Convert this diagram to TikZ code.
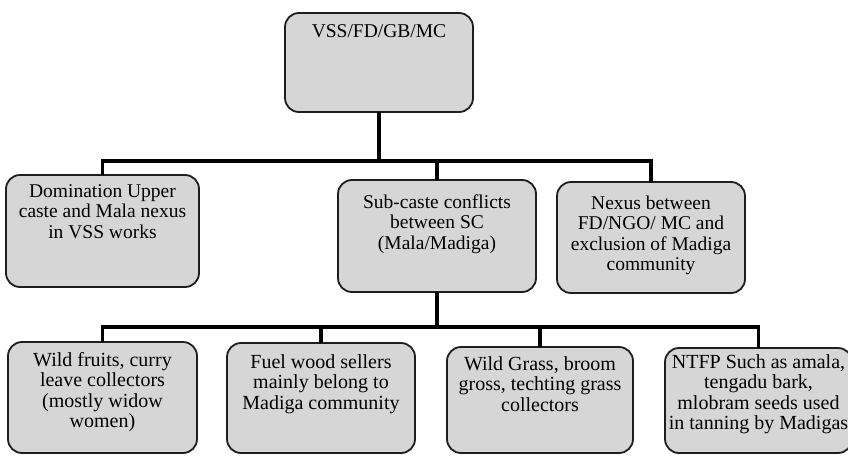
\documentclass[tikz,border=0pt]{standalone}
\usepackage{fontspec}
\setmainfont{Liberation Serif}
\definecolor{boxfill}{RGB}{214,214,214}
\definecolor{boxline}{RGB}{30,30,30}
\newcommand{\bxt}[4]{\parbox[c][#2pt][t]{#1pt}{\centering\leftskip=-30pt plus 1fil\rightskip=-30pt plus 1fil\parfillskip=0pt\rule{0pt}{#3pt}#4}}
\tikzset{
  card/.style={draw=boxline, line width=1.8pt, fill=boxfill, rounded corners=14pt, inner sep=0pt, outer sep=0pt},
  upper/.style={font=\fontsize{19.5}{20.5}\selectfont},
  lower/.style={font=\fontsize{20}{20.5}\selectfont},
  conn/.style={draw=black, line width=3.5pt}
}
\begin{document}
\begin{tikzpicture}[x=1pt,y=-1pt]
\useasboundingbox (0,0) rectangle (848,455);
\clip (0,0) rectangle (848,455);
\fill[white] (0,0) rectangle (848,455);
% top
\node[card, upper] (top) at (379,62.5) {\bxt{188}{99}{24}{VSS/FD/GB/MC}};
% middle row
\node[card, upper] (left) at (102.5,231) {\bxt{193}{112}{22}{Domination Upper\\caste and Mala nexus\\in VSS works}};
\node[card, upper] (mid) at (437,236) {\bxt{198}{112}{28}{Sub-caste conflicts\\between SC\\(Mala/Madiga)}};
\node[card, upper] (right) at (651,237.5) {\bxt{188}{111}{27}{Nexus between\\FD/NGO/ MC and\\exclusion of Madiga\\community}};
% bottom row
\node[card, lower] (b1) at (102.5,397.5) {\bxt{189}{111}{24}{Wild fruits, curry\\leave collectors\\(mostly widow\\women)}};
\node[card, lower] (b2) at (321,398) {\bxt{188}{110}{25}{Fuel wood sellers\\mainly belong to\\Madiga community}};
\node[card, lower] (b3) at (540,400) {\bxt{186}{106}{23}{Wild Grass, broom\\gross, techting grass\\collectors}};
\node[card, lower] (b4) at (758.5,400.5) {\bxt{187}{105}{20}{NTFP Such as amala,\\tengadu bark,\\mlobram seeds used\\in tanning by Madigas}};
% connectors
\coordinate (bar1) at (0,161);
\coordinate (bar2) at (0,327);
\draw[conn] (top.south) -- (top.south |- bar1);
\draw[conn] (left.north) -- (left.north |- bar1) -- (right.north |- bar1) -- (right.north);
\draw[conn] (mid.north) -- (mid.north |- bar1);
\draw[conn] (mid.south) -- (mid.south |- bar2);
\draw[conn] (b1.north) -- (b1.north |- bar2) -- (b4.north |- bar2) -- (b4.north);
\draw[conn] (b2.north) -- (b2.north |- bar2);
\draw[conn] (b3.north) -- (b3.north |- bar2);
\end{tikzpicture}
\end{document}
